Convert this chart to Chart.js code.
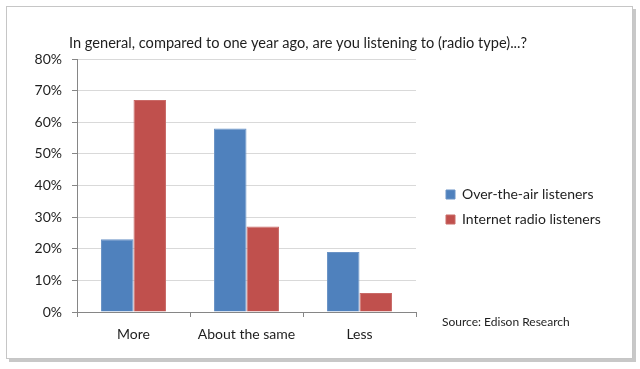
<!DOCTYPE html>
<html>
<head>
<meta charset="utf-8">
<script src="https://cdn.jsdelivr.net/npm/chart.js@4/dist/chart.umd.min.js"></script>
<style>
    html, body { margin: 0; padding: 0; background: #fff; }
    #wrap { width: 640px; height: 369px; position: relative; }
</style>
</head>
<body>
<div id="wrap"><canvas id="grafico"></canvas></div>
<script>
// Datos del gráfico
const categorias = ['More', 'About the same', 'Less'];
const seriesNombres = ['Over-the-air listeners', 'Internet radio listeners'];
const aireLibre = [23, 58, 19];
const radioInternet = [67, 27, 6];
const ticksY = [0, 10, 20, 30, 40, 50, 60, 70, 80];

const titulo = 'In general, compared to one year ago, are you listening to (radio type)...?';
const fuente = 'Source: Edison Research';
const FUENTE_TXT = 'Lato, "Open Sans", sans-serif';

// Marco con sombra, título y fuente
const marco = {
    id: 'marco',
    beforeDraw(chart) {
        const ctx = chart.ctx;
        ctx.save();
        ctx.fillStyle = '#fff';
        ctx.fillRect(0, 0, chart.width, chart.height);
        // sombra
        ctx.fillStyle = '#c8c8c8';
        ctx.fillRect(9, 9, 627, 353);
        ctx.fillStyle = '#fff';
        ctx.fillRect(6, 6, 627, 353);
        ctx.strokeStyle = '#c6c6c6';
        ctx.lineWidth = 1;
        ctx.strokeRect(6.5, 6.5, 626, 352);
        ctx.restore();
    },
    afterDraw(chart) {
        const ctx = chart.ctx;
        ctx.save();
        ctx.fillStyle = '#1e1e1e';
        ctx.textBaseline = 'middle';
        ctx.textAlign = 'center';
        ctx.font = '14.6px ' + FUENTE_TXT;
        ctx.fillText(titulo, 298, 43);
        ctx.textAlign = 'left';
        ctx.font = '12px ' + FUENTE_TXT;
        ctx.fillText(fuente, 442, 322);
        ctx.restore();
    }
};

// La leyenda ocupa todo el margen derecho (área del gráfico termina en x=416)
const ANCHO_LEYENDA = 224;
const leyendaPos = {
    id: 'leyendaPos',
    afterInit(chart) {
        const lg = chart.legend;
        if (!lg) return;
        const fitOrig = lg.fit;
        lg.fit = function () {
            fitOrig.call(this);
            this.width = ANCHO_LEYENDA;
        };
    },
    afterLayout(chart) {
        const lg = chart.legend;
        if (!lg) return;
        // desplazar los elementos: cuadro en x=446, centro vertical en y=207
        const dx = 446 - 11 - lg.left;
        const dy = 207 - (lg.top + lg.bottom) / 2;
        lg.left += dx; lg.right += dx;
        lg.top += dy; lg.bottom += dy;
    }
};

new Chart(document.getElementById('grafico'), {
    type: 'bar',
    data: {
        labels: categorias,
        datasets: [
            {
                label: seriesNombres[0],
                data: aireLibre,
                backgroundColor: '#4F81BD',
                borderColor: '#6a93c6',
                borderWidth: 1
            },
            {
                label: seriesNombres[1],
                data: radioInternet,
                backgroundColor: '#C0504D',
                borderColor: '#c96a67',
                borderWidth: 1
            }
        ]
    },
    options: {
        responsive: true,
        maintainAspectRatio: false,
        animation: false,
        layout: { padding: { left: 0, top: 59, right: 0, bottom: 0 } },
        datasets: {
            bar: { categoryPercentage: 0.575, barPercentage: 1 }
        },
        plugins: {
            title: { display: false },
            tooltip: { enabled: false },
            legend: {
                position: 'right',
                labels: {
                    boxWidth: 9,
                    boxHeight: 9,
                    padding: 11,
                    color: '#1e1e1e',
                    font: { family: FUENTE_TXT, size: 14 }
                }
            }
        },
        scales: {
            x: {
                afterFit: s => { s.height = 57; },
                grid: {
                    display: true,
                    offset: true,
                    drawOnChartArea: false,
                    drawTicks: true,
                    tickLength: 5,
                    color: '#868686'
                },
                border: { color: '#868686' },
                ticks: {
                    color: '#1e1e1e',
                    padding: 9,
                    font: { family: FUENTE_TXT, size: 14 }
                }
            },
            y: {
                min: 0,
                max: 80,
                afterFit: s => { s.width = 77; },
                afterBuildTicks: s => { s.ticks = ticksY.map(v => ({ value: v })); },
                grid: {
                    color: '#d9d9d9',
                    tickLength: 5,
                    tickColor: '#868686'
                },
                border: { color: '#868686' },
                ticks: {
                    color: '#1e1e1e',
                    padding: 10,
                    font: { family: FUENTE_TXT, size: 14 },
                    callback: v => v + '%'
                }
            }
        }
    },
    plugins: [marco, leyendaPos]
});
</script>
</body>
</html>
